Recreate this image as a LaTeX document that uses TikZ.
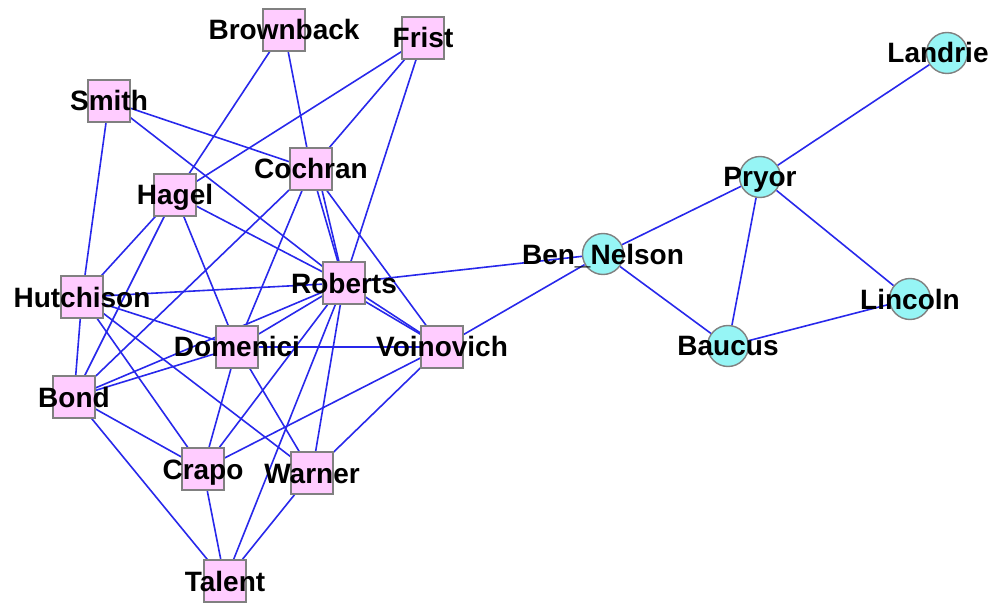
\documentclass[tikz,border=0pt]{standalone}
\usepackage{fontspec}
\setmainfont{Liberation Sans}
\usepackage{xcolor}
\usetikzlibrary{backgrounds}

\definecolor{repfill}{RGB}{255,204,255}
\definecolor{demfill}{RGB}{150,245,245}
\definecolor{linkblue}{RGB}{40,40,235}

\begin{document}
\begin{tikzpicture}[
    x=0.5pt, y=-0.5pt,
    rep/.style={rectangle, draw=gray, line width=0.7pt, fill=repfill, minimum size=21pt, inner sep=0pt},
    dem/.style={circle, draw=gray, line width=0.7pt, fill=demfill, minimum size=20.5pt, inner sep=0pt},
    tag/.style={font=\fontsize{14}{14}\selectfont\bfseries, inner sep=0pt, text height=10pt, text depth=0pt},
    link/.style={draw=linkblue, line width=0.8pt}
]
\useasboundingbox (0,0) rectangle (996,604);

% Republicans
\node[rep, label={[tag]center:Brownback}] (Brownback) at (284,30) {};
\node[rep, label={[tag]center:Frist}] (Frist) at (423,38) {};
\node[rep, label={[tag]center:Smith}] (Smith) at (109,101) {};
\node[rep, label={[tag]center:Cochran}] (Cochran) at (311,169) {};
\node[rep, label={[tag]center:Hagel}] (Hagel) at (175,195) {};
\node[rep, label={[tag]center:Roberts}] (Roberts) at (344,283) {};
\node[rep, label={[tag]center:Hutchison}] (Hutchison) at (82,297) {};
\node[rep, label={[tag]center:Domenici}] (Domenici) at (237,347) {};
\node[rep, label={[tag]center:Voinovich}] (Voinovich) at (442,347) {};
\node[rep, label={[tag]center:Bond}] (Bond) at (74,397) {};
\node[rep, label={[tag]center:Crapo}] (Crapo) at (203,469) {};
\node[rep, label={[tag]center:Warner}] (Warner) at (312,473) {};
\node[rep, label={[tag]center:Talent}] (Talent) at (225,581) {};

% Democrats
\node[dem, label={[tag, xshift=-4.5pt]center:Landrie}] (Landrie) at (947,53) {};
\node[dem, label={[tag]center:Pryor}] (Pryor) at (760,177) {};
\node[dem, label={[tag]center:Ben\_Nelson}] (BenNelson) at (603,254) {};
\node[dem, label={[tag]center:Lincoln}] (Lincoln) at (910,299) {};
\node[dem, label={[tag]center:Baucus}] (Baucus) at (728,346) {};

% Ties
\begin{scope}[on background layer]
\foreach \a/\b in {Brownback/Hagel, Brownback/Cochran,
    Frist/Hagel, Frist/Cochran, Frist/Roberts,
    Smith/Cochran, Smith/Roberts, Smith/Hutchison,
    Hagel/Hutchison, Hagel/Bond, Hagel/Domenici, Hagel/Roberts,
    Cochran/Bond, Cochran/Domenici, Cochran/Roberts, Cochran/Voinovich,
    Roberts/Hutchison, Roberts/Domenici, Roberts/Voinovich, Roberts/Bond,
    Roberts/Crapo, Roberts/Talent, Roberts/Warner, Roberts/BenNelson,
    Hutchison/Domenici, Hutchison/Bond, Hutchison/Crapo, Hutchison/Warner,
    Domenici/Bond, Domenici/Voinovich, Domenici/Crapo, Domenici/Warner,
    Voinovich/BenNelson, Voinovich/Crapo, Voinovich/Warner,
    Bond/Crapo, Bond/Talent, Crapo/Talent, Warner/Talent,
    BenNelson/Pryor, BenNelson/Baucus,
    Pryor/Landrie, Pryor/Baucus, Pryor/Lincoln, Baucus/Lincoln}
  \draw[link] (\a) -- (\b);
% repeated ties
\draw[link] ([xshift=3pt]Cochran.center) -- (Roberts);
\draw[link] ([yshift=-3pt]Roberts.center) -- (Voinovich);
\end{scope}
\end{tikzpicture}
\end{document}
